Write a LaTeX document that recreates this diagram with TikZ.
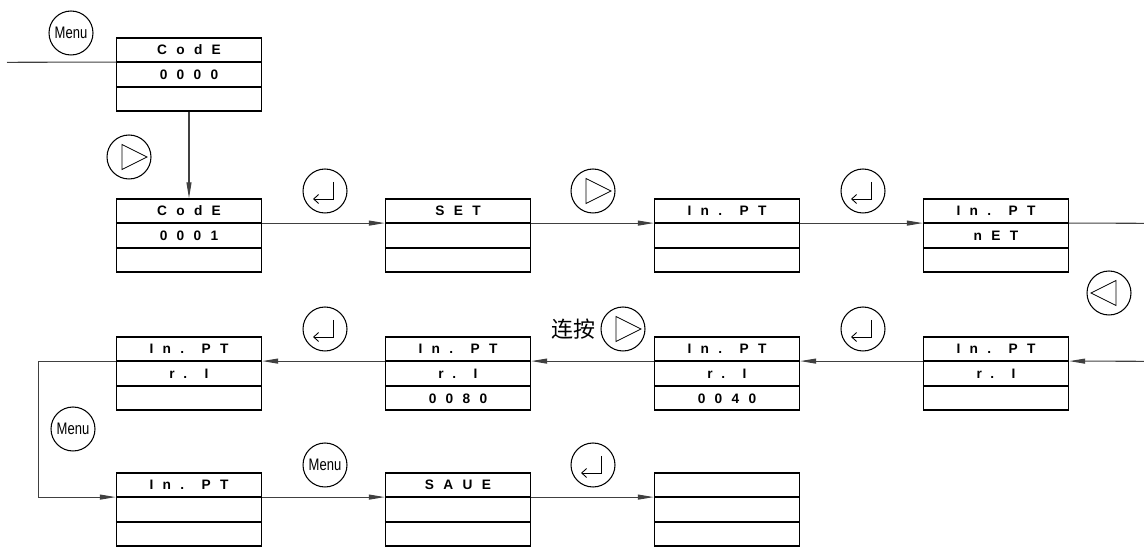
\documentclass[tikz,border=0pt]{standalone}
\usepackage{fontspec}
\usepackage{graphicx}
\setmainfont{Liberation Sans}
\newfontfamily\panelfont[LetterSpace=68]{Liberation Sans}
\newfontfamily\cjk{Noto Sans CJK SC}
\usetikzlibrary{calc,arrows.meta,positioning}
\tikzset{
	panelbox/.style={draw, line width=0.8pt, minimum width=2.9cm, minimum height=1.46cm, inner sep=0pt},
	paneltext/.style={font=\panelfont\bfseries\fontsize{7.8}{9}\selectfont, inner sep=0pt},
	link/.style={line width=0.6pt, color=black!75},
	arr/.style={link, -{Triangle[length=3.2mm,width=1mm]}},
	keybtn/.style={circle, draw, line width=0.6pt, minimum size=0.88cm, inner sep=0pt},
	menukey/.style={keybtn, font=\fontsize{9.5}{10}\selectfont},
	enterkey/.style={keybtn, path picture={\draw[line width=0.5pt, -{Straight Barb[length=1mm,width=1.8mm]}] ([shift={(8,-9)}]path picture bounding box.center) -- ++(0,17) -- ++(-20,0);}},
	rightkey/.style={keybtn, path picture={\draw[line width=0.5pt] ([shift={(-7,-12.5)}]path picture bounding box.center) -- ++(0,25) -- ++(25,-12.5) -- cycle;}},
	leftkey/.style={keybtn, path picture={\draw[line width=0.5pt] ([shift={(7,-12.5)}]path picture bounding box.center) -- ++(0,25) -- ++(-25,-12.5) -- cycle;}}
}
% panel with three rows: name, centre, row texts
\def\panel(#1)(#2,#3)#4#5#6{%
	\node[panelbox] (#1) at (#2,#3) {};
	\coordinate (#1-l) at ($(#1.north west)!1/3!(#1.south west)$);
	\coordinate (#1-r) at ($(#1.north east)!1/3!(#1.south east)$);
	\draw[line width=0.8pt] (#1-l) -- (#1-r);
	\draw[line width=0.8pt] ($(#1.north west)!2/3!(#1.south west)$) -- ($(#1.north east)!2/3!(#1.south east)$);
	\node[paneltext] at ($(#1.north)!1/6!(#1.south)$) {#4};
	\node[paneltext] at ($(#1.north)!1/2!(#1.south)$) {#5};
	\node[paneltext] at ($(#1.north)!5/6!(#1.south)$) {#6};
}

\begin{document}
\begin{tikzpicture}[x=0.02cm, y=-0.02cm]
		%%%%% START %%%%%
		\useasboundingbox (0,0) rectangle (1144,547);
		
		\panel(c0)(189,74.5){CodE}{0000}{}
		\panel(c1)(189,235.5){CodE}{0001}{}
		\panel(set)(458,235.5){SET}{}{}
		\panel(pt)(727,235.5){In. PT}{}{}
		\panel(net)(996,235.5){In. PT}{nET}{}
		
		\panel(ri1)(996,373.5){In. PT}{r. I}{}
		\panel(ri2)(727,373.5){In. PT}{r. I}{0040}
		\panel(ri3)(458,373.5){In. PT}{r. I}{0080}
		\panel(ri4)(189,373.5){In. PT}{r. I}{}
		
		\panel(pt4)(189,509.5){In. PT}{}{}
		\panel(save)(458,509.5){SAUE}{}{}
		\panel(blank)(727,509.5){}{}{}
		
		\coordinate (in0) at (7,62.3);
		\coordinate (out2) at (1144,223.3);
		\coordinate (in3) at (1144,361.3);
		
		\draw[link] (in0) -- (c0-l);
		\draw[arr] (c0.south) -- (c1.north);
		\draw[arr] (c1-r) -- (set-l);
		\draw[arr] (set-r) -- (pt-l);
		\draw[arr] (pt-r) -- (net-l);
		\draw[link] (net-r) -- (out2);
		
		\draw[arr] (in3) -- (ri1-r);
		\draw[arr] (ri1-l) -- (ri2-r);
		\draw[arr] (ri2-l) -- (ri3-r);
		\draw[arr] (ri3-l) -- (ri4-r);
		\draw[arr] (ri4-l) -- ++(-77.5,0) |- (pt4-l);
		
		\draw[arr] (pt4-r) -- (save-l);
		\draw[arr] (save-r) -- (blank-l);
		
		\node[menukey] (m0) at (71,33) {\scalebox{0.78}[1]{Menu}};
		\node[rightkey] (k1) at (129,157) {};
		\node[enterkey] (k2) at (325,191) {};
		\node[rightkey] (k3) at (593,191) {};
		\node[enterkey] (k4) at (863,191) {};
		\node[leftkey] (k5) at (1109,293) {};
		
		\node[enterkey] (k6) at (863,329) {};
		\node[rightkey] (k7) at (623,329) {};
		\node[font=\cjk\fontsize{12.5}{14}\selectfont, inner sep=0pt, left=0.1cm of k7] (hold) {连按};
		\node[enterkey] (k8) at (325,329) {};
		
		\node[menukey] (m1) at (73,429) {\scalebox{0.78}[1]{Menu}};
		\node[menukey] (m2) at (325,465) {\scalebox{0.78}[1]{Menu}};
		\node[enterkey] (k9) at (593,465) {};
		
		%%%%% END %%%%%
\end{tikzpicture}
\end{document}
